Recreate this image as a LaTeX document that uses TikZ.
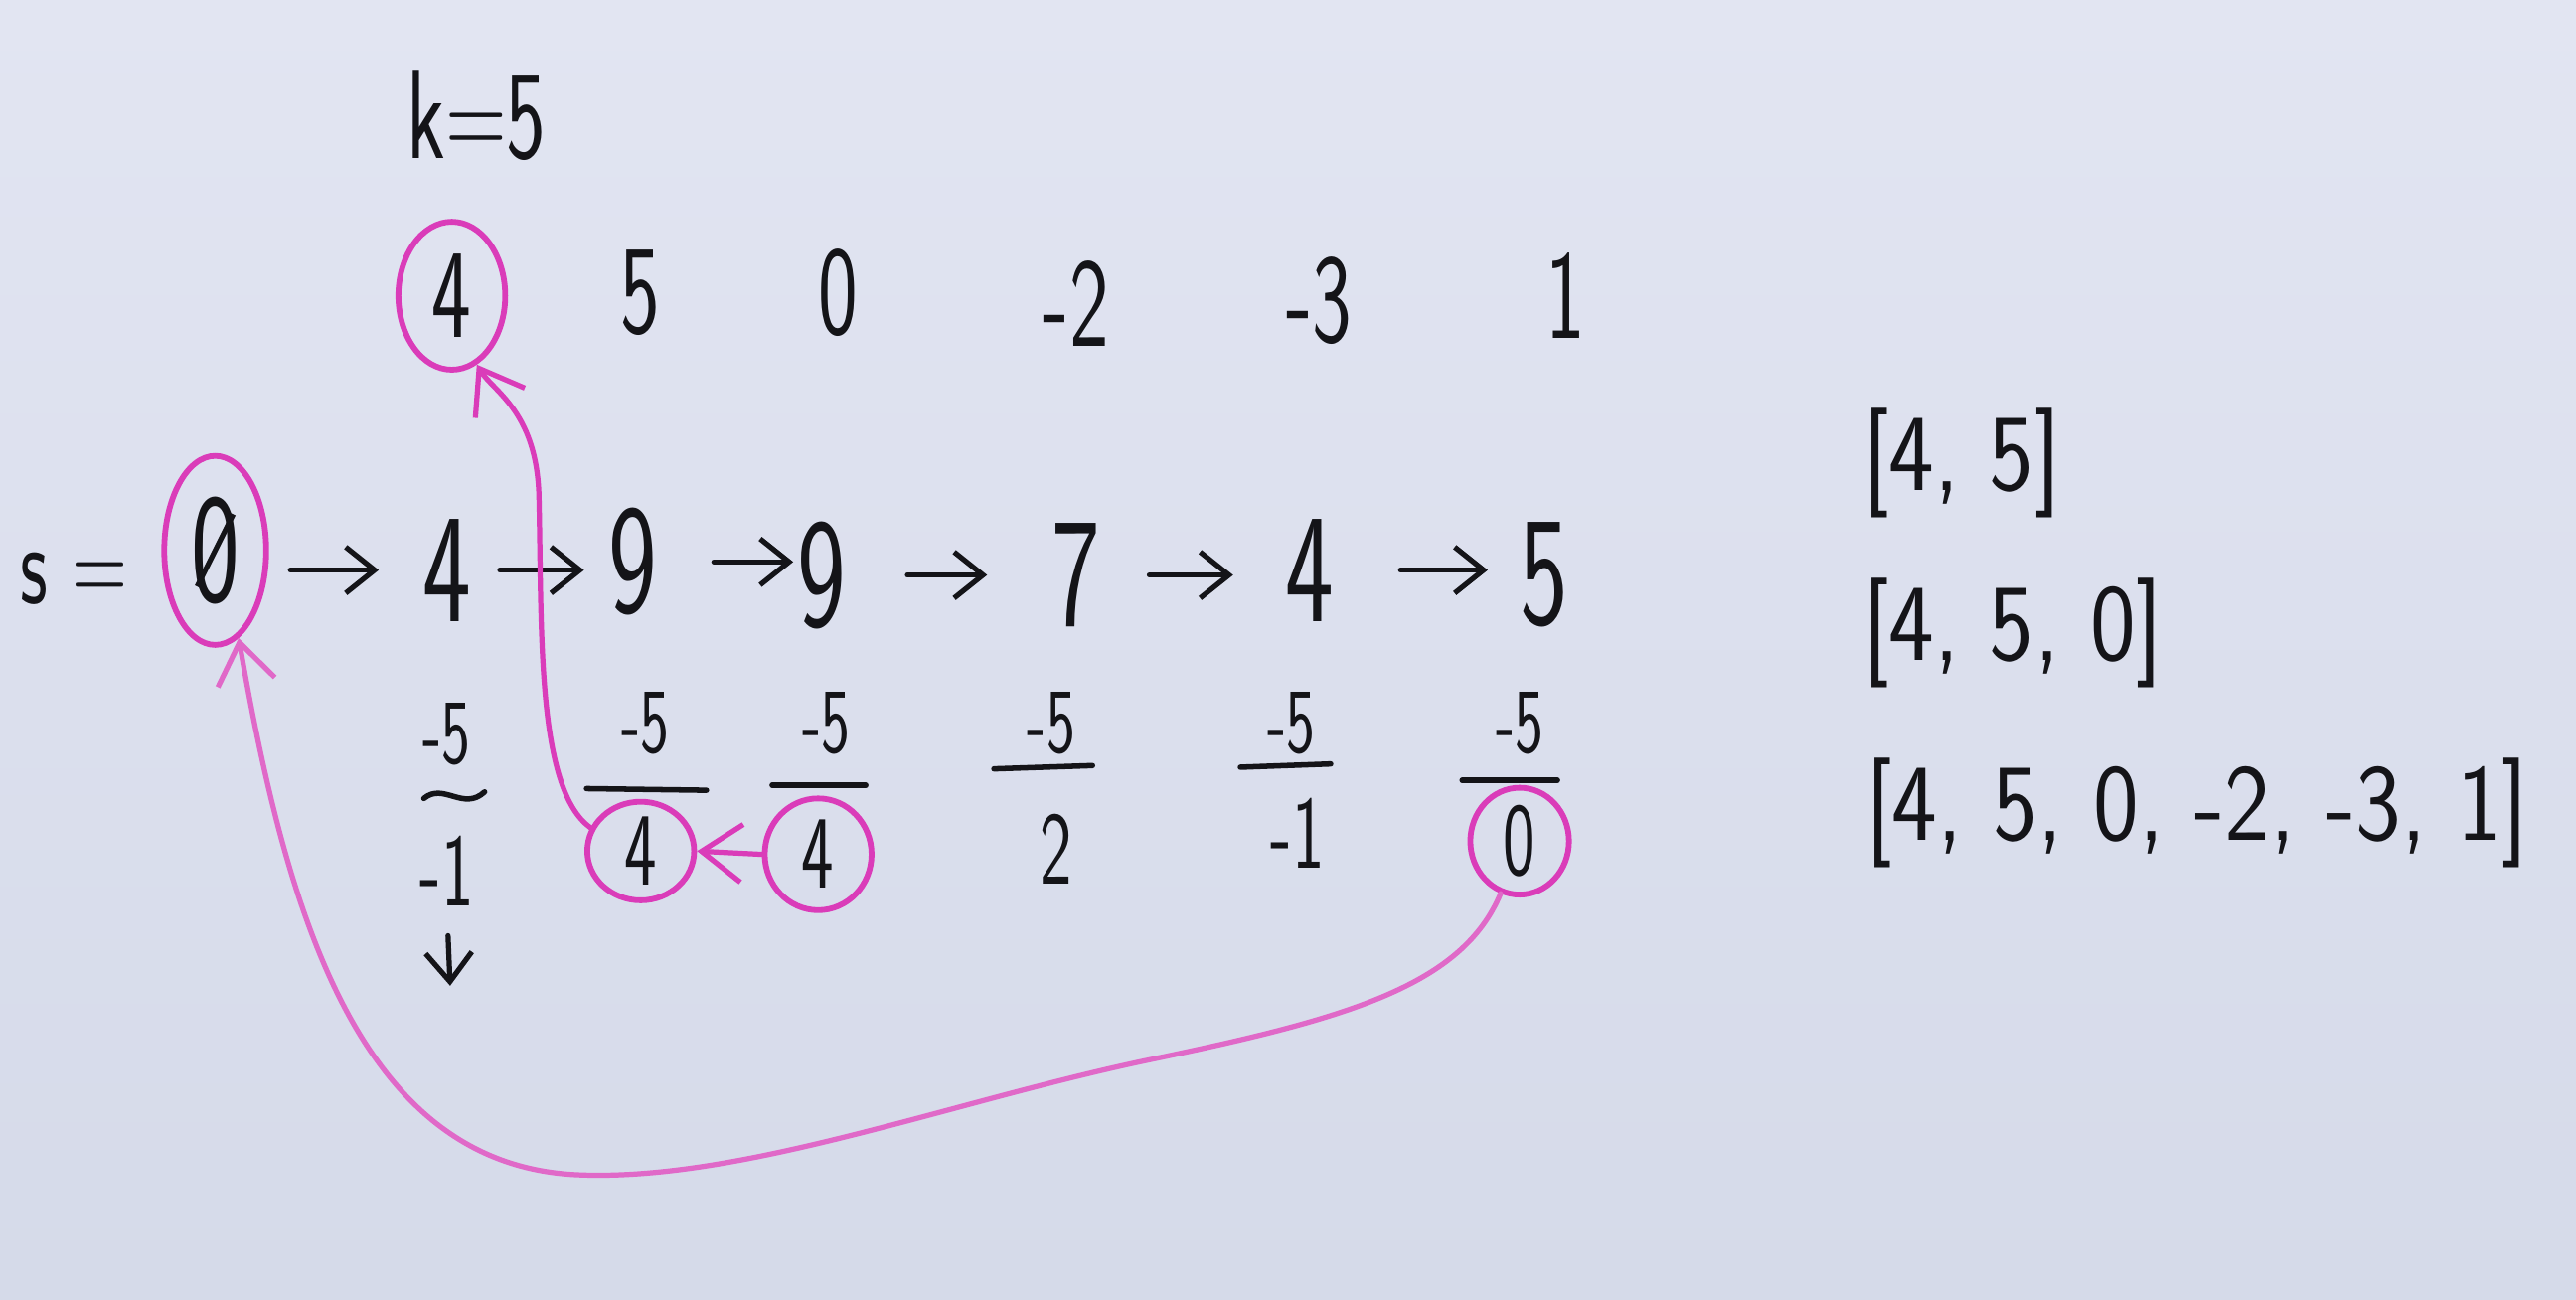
\documentclass[tikz,border=0pt]{standalone}
\usepackage{fontspec}
\setmainfont{Latin Modern Sans}[FakeStretch=0.66]
\newfontfamily\listfont{Latin Modern Sans}[FakeStretch=0.88]
\usetikzlibrary{shapes.geometric,arrows.meta}
\definecolor{boardtop}{RGB}{226,229,242}
\definecolor{boardbot}{RGB}{213,218,233}
\definecolor{ink}{RGB}{20,20,24}
\definecolor{mag}{RGB}{218,60,185}
\definecolor{magl}{RGB}{224,105,200}
\begin{document}
\begin{tikzpicture}[x=0.01cm,y=-0.01cm,
  txt/.style={inner sep=0pt, text=ink},
  big/.style={txt,font=\fontsize{27}{31}\selectfont},
  mid/.style={txt,font=\fontsize{22}{26}\selectfont},
  small/.style={txt,font=\fontsize{16}{19}\selectfont},
  den/.style={txt,font=\fontsize{18}{21}\selectfont},
  list/.style={txt,anchor=west,font=\listfont\fontsize{19}{23}\selectfont},
  ring/.style={ellipse, draw=mag, line width=1pt},
  bar/.style={draw=ink, line width=0.95pt, line cap=round},
  flow/.style={draw=ink, line width=0.9pt, line cap=round, -{Straight Barb[length=5pt,width=8pt]}},
  link/.style={draw=mag, line width=0.9pt, line cap=round, -{Straight Barb[length=7pt,width=10pt]}},
]
\fill[top color=boardtop,bottom color=boardbot] (0,0) rectangle (1568,791);
\useasboundingbox (0,0) rectangle (1568,791);

% k
\node[mid] (k) at (290,70) {k=5};

% top row
\node[mid,ring,minimum width=0.65cm,minimum height=0.9cm] (t1) at (275,180) {4};
\node[mid] (t2) at (390,178) {5};
\node[mid] (t3) at (510,178) {0};
\node[mid] (t4) at (655,185) {-2};
\node[mid] (t5) at (803,183) {-3};
\node[mid] (t6) at (953,180) {1};

% sum row
\node[txt,font=\fontsize{20}{24}\selectfont] (sl) at (45,352) {s =};
\node[big,ring,minimum width=0.62cm,minimum height=1.15cm] (s0) at (131,335) {0};
\draw[ink,line width=0.9pt] (s0.center) ++(-11,22) -- ++(22,-44);
\node[big] (s1) at (272,347) {4};
\node[big] (s2) at (385,342) {9};
\node[big] (s3) at (500,350) {9};
\node[big] (s4) at (655,350) {7};
\node[big] (s5) at (797,347) {4};
\node[big] (s6) at (940,350) {5};
\draw[flow,shorten <=3.7pt,shorten >=7.4pt] (s0.east |- s1.center) -- (s1.west);
\draw[flow,shorten <=4.8pt,shorten >=4pt] (s1.east) -- (s2.west |- s1.east);
\draw[flow,shorten <=9.7pt,shorten >=0.5pt] (s2.east) -- (s3.west |- s2.east);
\draw[flow,shorten <=10.5pt,shorten >=11pt] (s3.east) -- (s4.west |- s3.east);
\draw[flow,shorten <=8.3pt,shorten >=8.8pt] (s4.east) -- (s5.west |- s4.east);
\draw[flow,shorten <=11.4pt,shorten >=5.4pt] (s5.east) -- (s6.west |- s5.east);

% fractions
\node[small] (f1n) at (272,447) {-5};
\draw[bar] (258,486) .. controls (270,476) and (282,494) .. (295,482);
\node[den] (f1d) at (272,530) {-1};
\coordinate (f1end) at (274,600);
\draw[flow,shorten <=5pt] (f1d.south) -- (f1end);

\node[small] (f2n) at (393,440) {-5};
\draw[bar] (357,480) -- (430,481);
\node[den,ring,minimum width=0.65cm,minimum height=0.6cm] (f2d) at (390,518) {4};

\node[small] (f3n) at (503,440) {-5};
\draw[bar] (470,478) -- (527,478);
\node[den,ring,minimum width=0.65cm,minimum height=0.68cm] (f3d) at (498,520) {4};

\node[small] (f4n) at (640,440) {-5};
\draw[bar] (605,468) -- (665,466);
\node[den] (f4d) at (643,517) {2};

\node[small] (f5n) at (786,440) {-5};
\draw[bar] (755,467) -- (810,465);
\node[den] (f5d) at (790,507) {-1};

\node[small] (f6n) at (925,440) {-5};
\draw[bar] (890,475) -- (948,475);
\node[den,ring,minimum width=0.6cm,minimum height=0.65cm] (f6d) at (925,512) {0};

% lists
\node[list] (r1) at (1133,282) {[4, 5]};
\node[list] (r2) at (1133,385) {[4, 5, 0]};
\node[list] (r3) at (1135,495) {[4, 5, 0, -2, -3, 1]};

% magenta links
\draw[link] (f3d.west) -- (f2d.east);
\draw[link] (f2d.155) .. controls (326,480) and (330,380) .. (328,300)
  .. controls (326,250) and (300,238) .. (t1.-70);
\draw[link,draw=magl] (f6d.250) .. controls (890,600) and (820,620) .. (700,645)
  .. controls (580,670) and (450,720) .. (350,715)
  .. controls (220,708) and (175,560) .. (s0.-75);
\end{tikzpicture}
\end{document}
